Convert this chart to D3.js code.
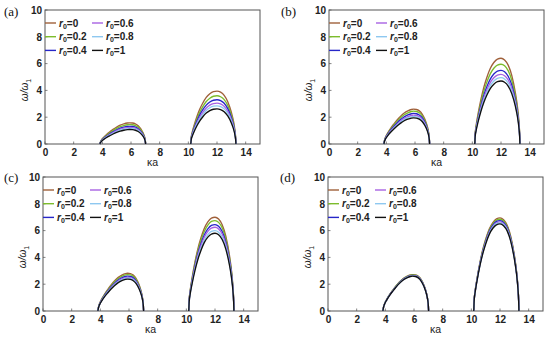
<!DOCTYPE html>
<html>
<head>
<meta charset="utf-8">
<script src="https://cdn.jsdelivr.net/npm/d3@7"></script>
<style>
  body { margin: 0; background: #fff; }
  svg { display: block; }
  .tick text { font-family: "Liberation Sans", Arial, sans-serif; font-weight: bold; font-size: 10px; fill: #222; }
</style>
</head>
<body>
<svg id="chart" width="550" height="337"></svg>
<script>
// r0 values shown in the legend
const r0Labels = ['0', '0.2', '0.4', '0.6', '0.8', '1'];
const colors = ['#a0603a', '#7cbc2c', '#2626c8', '#a862e2', '#8ec8f0', '#111111'];

// dome shapes (fraction of each curve's peak)
const band1X     = [3.83, 3.87, 3.95, 4.1, 4.3, 4.5, 4.75, 5.0, 5.25, 5.5, 5.75, 5.9, 6.1, 6.3, 6.5, 6.7, 6.85, 6.95, 7.0, 7.02];
const band1Shape = [0, 0.1, 0.2, 0.32, 0.45, 0.56, 0.69, 0.8, 0.89, 0.95, 0.99, 1.0, 0.99, 0.95, 0.86, 0.7, 0.52, 0.33, 0.16, 0];
const band2X     = [10.17, 10.2, 10.27, 10.4, 10.6, 10.8, 11.0, 11.25, 11.5, 11.75, 12.0, 12.25, 12.5, 12.75, 13.0, 13.15, 13.25, 13.3, 13.32];
const band2Shape = [0, 0.12, 0.22, 0.35, 0.52, 0.66, 0.77, 0.88, 0.95, 0.99, 1.0, 0.98, 0.92, 0.8, 0.6, 0.43, 0.26, 0.12, 0];

// peak heights (omega/omega1) per r0, per panel
const peaksA1 = [1.58, 1.45, 1.32, 1.24, 1.16, 1.08];
const peaksA2 = [3.95, 3.6, 3.3, 3.05, 2.85, 2.62];
const peaksB1 = [2.6, 2.45, 2.28, 2.15, 2.05, 1.95];
const peaksB2 = [6.4, 5.95, 5.5, 5.2, 4.95, 4.7];
const peaksC1 = [2.82, 2.72, 2.6, 2.52, 2.45, 2.38];
const peaksC2 = [7.0, 6.75, 6.45, 6.25, 6.0, 5.8];
const peaksD1 = [2.72, 2.7, 2.66, 2.64, 2.62, 2.6];
const peaksD2 = [6.95, 6.85, 6.75, 6.65, 6.58, 6.5];

const xTicks = [0, 2, 4, 6, 8, 10, 12, 14];
const yTicks = [0, 2, 4, 6, 8, 10];

const panels = [
  {label: '(a)', left: 45, top: 10, p1: peaksA1, p2: peaksA2, lx: 4, ly: 16},
  {label: '(b)', left: 329, top: 10, p1: peaksB1, p2: peaksB2, lx: 281, ly: 16},
  {label: '(c)', left: 43, top: 177, p1: peaksC1, p2: peaksC2, lx: 4, ly: 182},
  {label: '(d)', left: 328, top: 177, p1: peaksD1, p2: peaksD2, lx: 280, ly: 182}
];

const width = 215;
const height = 134;
const svg = d3.select('#chart');

const x = d3.scaleLinear().domain([0, 15]).range([0, width]);
const y = d3.scaleLinear().domain([0, 10]).range([height, 0]);

const line = d3.line()
  .x(d => x(d[0]))
  .y(d => y(d[1]))
  .curve(d3.curveMonotoneX);

panels.forEach(p => {
  svg.append('text')
    .attr('x', p.lx).attr('y', p.ly)
    .attr('font-family', '"Liberation Serif", "DejaVu Serif", serif')
    .attr('font-size', 13)
    .attr('fill', '#111')
    .text(p.label);

  const g = svg.append('g').attr('transform', 'translate(' + p.left + ',' + p.top + ')');

  g.append('g')
    .attr('transform', 'translate(0,' + height + ')')
    .call(d3.axisBottom(x).tickValues(xTicks).tickSize(0).tickPadding(5))
    .call(s => s.select('.domain').remove());

  g.append('g')
    .call(d3.axisLeft(y).tickValues(yTicks).tickSize(0).tickPadding(3))
    .call(s => s.select('.domain').remove());

  // inward frame ticks
  g.selectAll('.xt').data(xTicks).join('line')
    .attr('x1', d => x(d)).attr('x2', d => x(d))
    .attr('y1', height).attr('y2', height - 2.5)
    .attr('stroke', '#666').attr('stroke-width', 0.8);
  g.selectAll('.yt').data(yTicks).join('line')
    .attr('x1', 0).attr('x2', 2.5)
    .attr('y1', d => y(d)).attr('y2', d => y(d))
    .attr('stroke', '#666').attr('stroke-width', 0.8);

  g.append('rect')
    .attr('width', width).attr('height', height)
    .attr('fill', 'none').attr('stroke', '#555').attr('stroke-width', 1);

  g.append('text')
    .attr('x', x(7.5)).attr('y', height + 22)
    .attr('text-anchor', 'middle')
    .attr('font-family', '"Liberation Sans", Arial, sans-serif')
    .attr('font-size', 10.5).attr('fill', '#222')
    .text('κa');

  const yl = g.append('text')
    .attr('transform', 'translate(-17,' + (height / 2 + 13) + ') rotate(-90)')
    .attr('text-anchor', 'middle')
    .attr('font-family', '"Liberation Sans", Arial, sans-serif')
    .attr('font-size', 10).attr('fill', '#222');
  yl.append('tspan').attr('font-style', 'italic').text('ω/ω');
  yl.append('tspan').attr('font-size', 7).attr('dy', 3).text('1');

  r0Labels.forEach((r, i) => {
    const c1 = band1X.map((v, k) => [v, p.p1[i] * band1Shape[k]]);
    const c2 = band2X.map((v, k) => [v, p.p2[i] * band2Shape[k]]);
    [c1, c2].forEach(c => {
      g.append('path')
        .attr('d', line(c))
        .attr('fill', 'none')
        .attr('stroke', colors[i])
        .attr('stroke-width', 1.35);
    });
  });

  // legend
  r0Labels.forEach((r, i) => {
    const col = Math.floor(i / 3);
    const row = i % 3;
    const lx = col === 0 ? 0 : 47;
    const ly = 13 + row * 13.7;
    g.append('line')
      .attr('x1', lx).attr('x2', lx + 11)
      .attr('y1', ly).attr('y2', ly)
      .attr('stroke', colors[i]).attr('stroke-width', 1.4);
    const t = g.append('text')
      .attr('x', lx + 14).attr('y', ly + 3.5)
      .attr('font-family', '"Liberation Sans", Arial, sans-serif')
      .attr('font-size', 10).attr('font-weight', 'bold').attr('fill', '#222');
    t.append('tspan').attr('font-style', 'italic').text('r');
    t.append('tspan').attr('font-size', 7).attr('dy', 2).text('0');
    t.append('tspan').attr('dy', -2).text('=' + r);
  });
});
</script>
</body>
</html>
